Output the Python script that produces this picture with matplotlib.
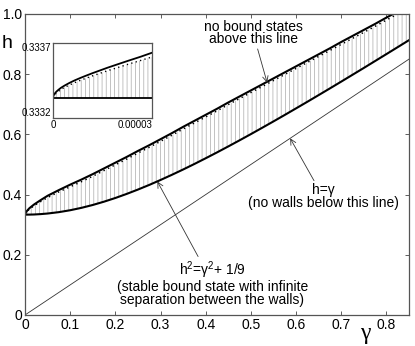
import matplotlib
matplotlib.use("Agg")
import matplotlib.pyplot as plt

plt.rcParams['font.family'] = ['Liberation Sans', 'DejaVu Sans']
plt.rcParams['hatch.linewidth'] = 0.6

# main curves
gamma = [0, 0.002, 0.005, 0.01, 0.02, 0.035, 0.05, 0.075, 0.1, 0.125, 0.15, 0.175,
         0.2, 0.225, 0.25, 0.275, 0.3, 0.325, 0.35, 0.375, 0.4, 0.425, 0.45, 0.475,
         0.5, 0.525, 0.55, 0.575, 0.6, 0.625, 0.65, 0.675, 0.7, 0.725, 0.75, 0.775,
         0.8, 0.825, 0.85]
h_upper = [0.3333, 0.341, 0.347, 0.355, 0.367, 0.382, 0.396, 0.415, 0.433, 0.450,
           0.468, 0.487, 0.506, 0.525, 0.545, 0.564, 0.584, 0.604, 0.625, 0.645,
           0.665, 0.685, 0.706, 0.726, 0.746, 0.766, 0.786, 0.806, 0.826, 0.846,
           0.866, 0.886, 0.907, 0.927, 0.947, 0.967, 0.988, 1.008, 1.028]
h_dotted = [0.3333, 0.339, 0.345, 0.352, 0.363, 0.377, 0.390, 0.409, 0.426, 0.443,
            0.461, 0.480, 0.499, 0.518, 0.538, 0.557, 0.577, 0.597, 0.618, 0.638,
            0.658, 0.678, 0.699, 0.719, 0.739, 0.759, 0.779, 0.799, 0.819, 0.839,
            0.859, 0.879, 0.899, 0.919, 0.939, 0.959, 0.980, 1.000, 1.020]
h_lower = [0.3333, 0.3333, 0.3334, 0.3335, 0.3339, 0.3352, 0.3371, 0.3417, 0.3480,
           0.3560, 0.3655, 0.3765, 0.3887, 0.4022, 0.4167, 0.4321, 0.4485, 0.4656,
           0.4833, 0.5017, 0.5207, 0.5401, 0.5600, 0.5803, 0.6009, 0.6219, 0.6431,
           0.6646, 0.6864, 0.7083, 0.7305, 0.7528, 0.7753, 0.7980, 0.8207, 0.8437,
           0.8667, 0.8898, 0.9130]
diag_g = [0, 0.85]
diag_h = [0, 0.85]

# inset (zoom near gamma = 0)
in_g = [0, 1e-7, 3e-7, 6e-7, 1e-6, 1.6e-6, 2.4e-6, 3.5e-6, 5e-6, 6.5e-6, 8.3e-6,
        1.0e-5, 1.2e-5, 1.4e-5, 1.65e-5, 2.0e-5, 2.3e-5, 2.65e-5, 3e-5]
in_upper = [0.333333, 0.333345, 0.333355, 0.333365, 0.333375, 0.333387, 0.333401,
            0.333416, 0.333434, 0.333450, 0.333467, 0.333482, 0.333499, 0.333515,
            0.333535, 0.333561, 0.333583, 0.333608, 0.333635]
in_dotted = [0.333333, 0.333340, 0.333348, 0.333357, 0.333366, 0.333377, 0.333390,
             0.333404, 0.333420, 0.333435, 0.333451, 0.333465, 0.333481, 0.333496,
             0.333515, 0.333539, 0.333560, 0.333583, 0.333607]
in_lower = [0.333333] * len(in_g)

fig = plt.figure(figsize=(4.15, 3.46), dpi=100)
ax = fig.add_axes([0.0602, 0.0896, 0.9253, 0.870])

ax.fill_between(gamma, h_lower, h_dotted, facecolor='none', edgecolor='#b8b8b8',
                hatch='||||', linewidth=0)
ax.plot(gamma, h_upper, color='black', lw=1.5)
ax.plot(gamma, h_dotted, color='black', lw=1.1, dashes=(0.9, 2.4))
ax.plot(gamma, h_lower, color='black', lw=1.5)
ax.plot(diag_g, diag_h, color='#333333', lw=0.6)

ax.set_xlim(0, 0.85)
ax.set_ylim(0, 1.0)
ax.set_xticks([0, 0.1, 0.2, 0.3, 0.4, 0.5, 0.6, 0.7, 0.8])
ax.set_xticklabels(['0', '0.1', '0.2', '0.3', '0.4', '0.5', '0.6', '0.7', '0.8'])
ax.set_yticks([0, 0.2, 0.4, 0.6, 0.8, 1.0])
ax.set_yticklabels(['0', '0.2', '0.4', '0.6', '0.8', '1.0'])
ax.tick_params(direction='in', top=True, right=True, length=3, width=0.6,
               labelsize=10, pad=2, color='#444444')
for s in ax.spines.values():
    s.set_color('#555555')
    s.set_linewidth(0.9)

fig.text(7 / 415, 1 - 43 / 346, 'h', fontsize=14, ha='center', va='center')
fig.text(365 / 415, 1 - 334 / 346, '\u03b3', fontsize=17, ha='center', va='center',
         family=['Liberation Serif', 'DejaVu Serif'])

arrow = dict(arrowstyle='->', color='#333333', lw=0.6, shrinkA=0, shrinkB=0)
ax.annotate('no bound states\nabove this line', xy=(0.536, 0.772),
            xytext=(0.505, 0.893), ha='center', va='bottom', fontsize=10,
            linespacing=0.85, arrowprops=arrow)
ax.annotate('h=\u03b3\n(no walls below this line)', xy=(0.587, 0.587),
            xytext=(0.66, 0.437), ha='center', va='top', fontsize=10,
            linespacing=0.9, arrowprops=arrow)
ax.annotate('h$^\\mathregular{2}$=\u03b3$^\\mathregular{2}$+ 1/9\n'
            '(stable bound state with infinite\n'
            'separation between the walls)', xy=(0.293, 0.4437),
            xytext=(0.415, 0.185), ha='center', va='top', fontsize=10,
            linespacing=0.9, arrowprops=arrow)

# inset
axi = fig.add_axes([0.1277, 0.659, 0.2386, 0.2168])
axi.fill_between(in_g, in_lower, in_dotted, facecolor='none', edgecolor='#b8b8b8',
                 hatch='||||', linewidth=0)
axi.plot(in_g, in_upper, color='black', lw=1.3)
axi.plot(in_g, in_dotted, color='black', lw=1.0, dashes=(0.9, 2.4))
axi.plot(in_g, in_lower, color='black', lw=1.3)
axi.set_xlim(0, 3e-5)
axi.set_ylim(0.3332, 0.3337)
axi.set_xticks([0, 3e-5])
axi.set_xticklabels(['0', '0.00003'])
axi.set_yticks([0.3332, 0.3337])
axi.set_yticklabels(['0.3332', '0.3337'])
axi.tick_params(direction='in', length=0, labelsize=7, pad=1.5)
axi.get_xticklabels()[0].set_ha('center')
axi.get_xticklabels()[1].set_ha('right')
axi.get_yticklabels()[0].set_va('bottom')
axi.get_yticklabels()[1].set_va('top')
for s in axi.spines.values():
    s.set_color('#555555')
    s.set_linewidth(0.9)

fig.savefig('out.png', dpi=100)
